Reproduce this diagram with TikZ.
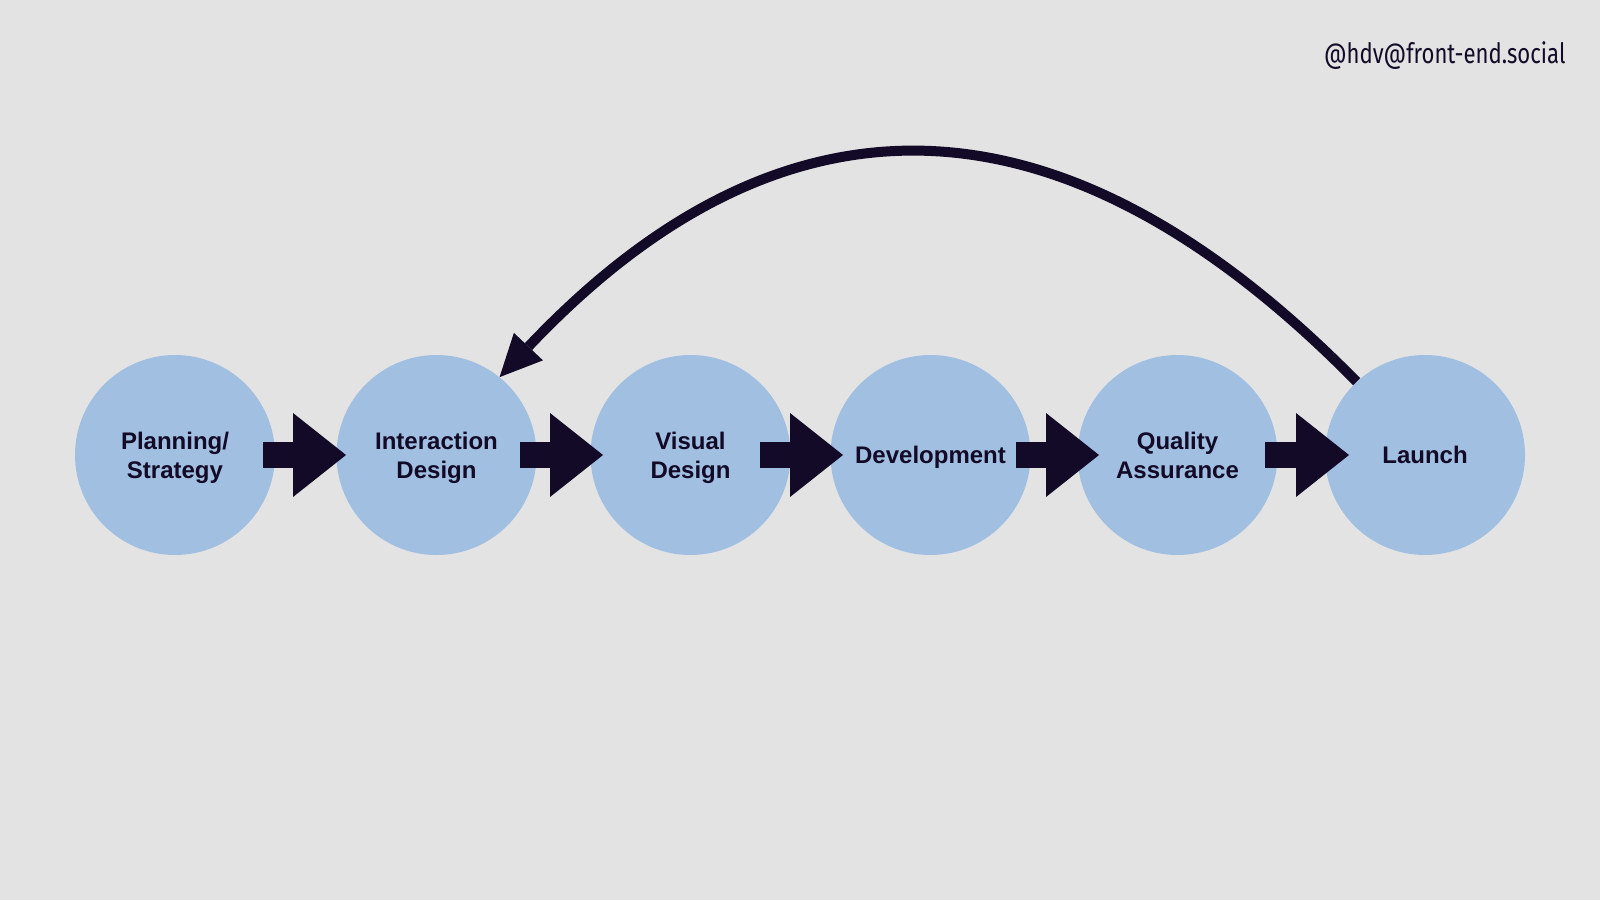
\documentclass[tikz,border=0pt]{standalone}
\usepackage{xcolor}
\usepackage{fontspec}
\setmainfont{Liberation Sans}
\newfontfamily\handlefont[FakeStretch=0.79]{Fira Sans}
\usepackage{tikz}
\usetikzlibrary{arrows.meta}

\definecolor{slidebg}{HTML}{E3E3E3}
\definecolor{stageblue}{HTML}{A1BFE1}
\definecolor{inkdark}{HTML}{120A26}

\tikzset{
  stage/.style={circle, fill=stageblue, minimum size=200pt, inner sep=0pt,
    align=center, text=inkdark, text depth=0pt,
    font=\fontsize{24}{29}\selectfont\bfseries},
  flow/.style={draw=inkdark, line width=26pt,
    -{Triangle[length=53pt, width=84pt, line width=0pt 0 0]}},
  loopback/.style={draw=inkdark, line width=10pt,
    -{Triangle[length=42pt, width=40pt, line width=0pt 0 0]}}
}

\begin{document}
\begin{tikzpicture}[x=1pt, y=-1pt]
  \fill[slidebg] (0,0) rectangle (1600,900);
  \useasboundingbox (0,0) rectangle (1600,900);

  \node[anchor=base east, text=inkdark, font=\handlefont\fontsize{28}{32}\selectfont]
    (handle) at (1569,63) {@hdv@front-end.social};

  % the six stages
  \node[stage] (plan) at (175,455) {Planning/\\Strategy};
  \node[stage] (inter) at (436.5,455) {Interaction\\Design};
  \node[stage] (visual) at (690.5,455) {Visual\\Design};
  \node[stage] (dev) at (930.5,455) {Development};
  \node[stage] (qa) at (1177.5,455) {Quality\\Assurance};
  \node[stage] (launch) at (1425,455) {Launch};

  % block arrows between them
  \draw[flow, shorten <=88pt, shorten >=90.5pt] (plan.center) -- (inter.center);
  \draw[flow, shorten <=83.5pt, shorten >=87.5pt] (inter.center) -- (visual.center);
  \draw[flow, shorten <=69.5pt, shorten >=87.5pt] (visual.center) -- (dev.center);
  \draw[flow, shorten <=85.5pt, shorten >=78.5pt] (dev.center) -- (qa.center);
  \draw[flow, shorten <=87.5pt, shorten >=76pt] (qa.center) -- (launch.center);

  % back to interaction design
  \draw[loopback] (launch.133) .. controls (1053,73) and (775,86) .. (inter.51);
\end{tikzpicture}
\end{document}
